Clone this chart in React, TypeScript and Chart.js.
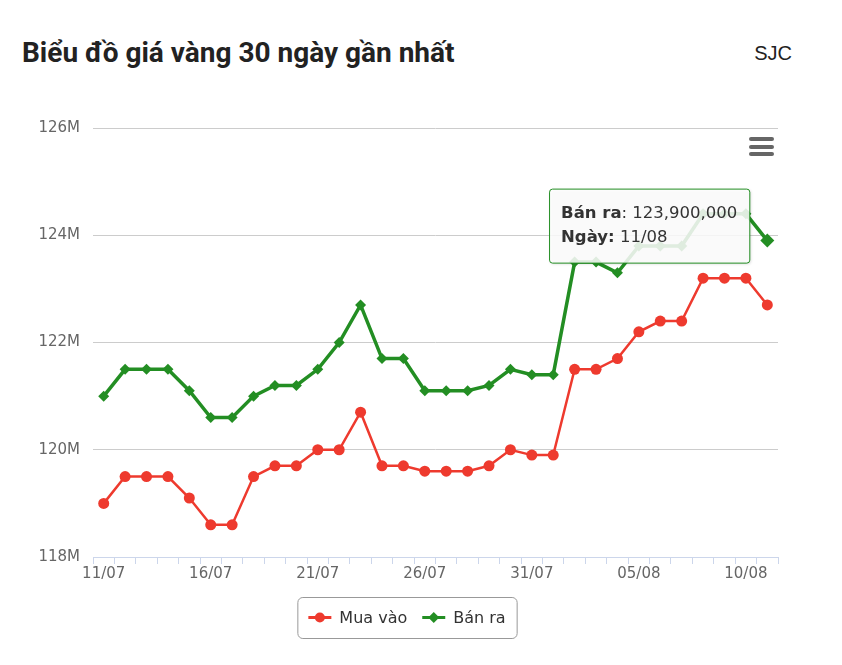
import React, { useEffect, useRef } from "react";
import { Chart, registerables } from "chart.js";

Chart.register(...registerables);

const titleText = "Biểu đồ giá vàng 30 ngày gần nhất";
const brandText = "SJC";
const dateLabel = "Ngày";

const categories = [
  "11/07", "12/07", "13/07", "14/07", "15/07", "16/07", "17/07", "18/07",
  "19/07", "20/07", "21/07", "22/07", "23/07", "24/07", "25/07", "26/07",
  "27/07", "28/07", "29/07", "30/07", "31/07", "01/08", "02/08", "03/08",
  "04/08", "05/08", "06/08", "07/08", "08/08", "09/08", "10/08", "11/08",
];

const buyPrices = [
  119000000, 119500000, 119500000, 119500000, 119100000, 118600000, 118600000, 119500000,
  119700000, 119700000, 120000000, 120000000, 120700000, 119700000, 119700000, 119600000,
  119600000, 119600000, 119700000, 120000000, 119900000, 119900000, 121500000, 121500000,
  121700000, 122200000, 122400000, 122400000, 123200000, 123200000, 123200000, 122700000,
];

const sellPrices = [
  121000000, 121500000, 121500000, 121500000, 121100000, 120600000, 120600000, 121000000,
  121200000, 121200000, 121500000, 122000000, 122700000, 121700000, 121700000, 121100000,
  121100000, 121100000, 121200000, 121500000, 121400000, 121400000, 123500000, 123500000,
  123300000, 123800000, 123800000, 123800000, 124400000, 124400000, 124400000, 123900000,
];

const seriesNames = ["Mua vào", "Bán ra"];
const yMin = 118000000;
const yMax = 126000000;
const yStep = 2000000;
const labelEvery = 5;

const RED = "#EE3A2E";
const GREEN = "#238E23";
const FONT = "'DejaVu Sans', sans-serif";

function roundRect(ctx: CanvasRenderingContext2D, x: number, y: number, w: number, h: number, r: number) {
  ctx.beginPath();
  ctx.moveTo(x + r, y);
  ctx.lineTo(x + w - r, y);
  ctx.arcTo(x + w, y, x + w, y + r, r);
  ctx.lineTo(x + w, y + h - r);
  ctx.arcTo(x + w, y + h, x + w - r, y + h, r);
  ctx.lineTo(x + r, y + h);
  ctx.arcTo(x, y + h, x, y + h - r, r);
  ctx.lineTo(x, y + r);
  ctx.arcTo(x, y, x + r, y, r);
  ctx.closePath();
}

function drawMarker(ctx: CanvasRenderingContext2D, style: string, x: number, y: number, r: number, color: string) {
  ctx.fillStyle = color;
  ctx.beginPath();
  if (style === "rectRot") {
    ctx.moveTo(x - r, y);
    ctx.lineTo(x, y - r);
    ctx.lineTo(x + r, y);
    ctx.lineTo(x, y + r);
    ctx.closePath();
  } else {
    ctx.arc(x, y, r, 0, Math.PI * 2);
  }
  ctx.fill();
}

const boxLegend = {
  id: "boxLegend",
  afterDraw(chart: any) {
    const ctx: CanvasRenderingContext2D = chart.ctx;
    const ds = chart.data.datasets;
    ctx.save();
    ctx.font = `16px ${FONT}`;
    const markerW = 23, gap = 8, itemGap = 15, padX = 11;
    const widths = ds.map((d: any) => ctx.measureText(d.label).width);
    const total = padX * 2 + widths.reduce((a: number, w: number) => a + markerW + gap + w, 0) + itemGap * (ds.length - 1);
    const cx = 407, cy = 617.5, h = 41;
    const left = cx - total / 2;
    roundRect(ctx, left + 0.5, cy - h / 2 + 0.5, total, h, 5);
    ctx.strokeStyle = "#999999";
    ctx.lineWidth = 1;
    ctx.stroke();
    let x = left + padX;
    ds.forEach((d: any, i: number) => {
      ctx.strokeStyle = d.borderColor;
      ctx.lineWidth = 3;
      ctx.beginPath();
      ctx.moveTo(x, cy);
      ctx.lineTo(x + markerW, cy);
      ctx.stroke();
      drawMarker(ctx, d.pointStyle, x + markerW / 2, cy, d.pointStyle === "rectRot" ? 5.5 : 5, d.borderColor);
      x += markerW + gap;
      ctx.fillStyle = "#333333";
      ctx.textBaseline = "middle";
      ctx.textAlign = "left";
      ctx.fillText(d.label, x, cy + 1);
      x += widths[i] + itemGap;
    });
    ctx.restore();
  },
};

const fixedTooltip = {
  id: "fixedTooltip",
  afterDraw(chart: any) {
    const ctx: CanvasRenderingContext2D = chart.ctx;
    const dsIndex = 1;
    const meta = chart.getDatasetMeta(dsIndex);
    const last = meta.data.length - 1;
    const pt = meta.data[last];
    const ds = chart.data.datasets[dsIndex];
    const value = ds.data[last] as number;
    const cat = chart.data.labels[last];
    ctx.save();
    const boldFont = `bold 16.5px ${FONT}`;
    const normFont = `16.5px ${FONT}`;
    const l1b = ds.label;
    const l1n = ": " + value.toLocaleString("en-US");
    const l2b = dateLabel + ":";
    const l2n = " " + cat;
    ctx.font = boldFont;
    const w1b = ctx.measureText(l1b).width;
    const w2b = ctx.measureText(l2b).width;
    ctx.font = normFont;
    const w1n = ctx.measureText(l1n).width;
    const w2n = ctx.measureText(l2n).width;
    const padX = 12;
    const w = Math.max(w1b + w1n, w2b + w2n) + padX * 2;
    const h = 74;
    const right = pt.x - 18;
    const left = right - w;
    const top = pt.y - 52;
    ctx.shadowColor = "rgba(0,0,0,0.18)";
    ctx.shadowOffsetX = 1;
    ctx.shadowOffsetY = 1;
    ctx.shadowBlur = 3;
    roundRect(ctx, left + 0.5, top + 0.5, w, h, 3);
    ctx.fillStyle = "rgba(255,255,255,0.86)";
    ctx.fill();
    ctx.shadowColor = "transparent";
    ctx.strokeStyle = ds.borderColor;
    ctx.lineWidth = 1;
    ctx.stroke();
    ctx.fillStyle = "#333333";
    ctx.textBaseline = "middle";
    ctx.textAlign = "left";
    ctx.font = boldFont;
    ctx.fillText(l1b, left + padX, top + 25);
    ctx.fillText(l2b, left + padX, top + 49);
    ctx.font = normFont;
    ctx.fillText(l1n, left + padX + w1b, top + 25);
    ctx.fillText(l2n, left + padX + w2b, top + 49);
    ctx.restore();
  },
};

export default function App() {
  const canvasRef = useRef<HTMLCanvasElement | null>(null);

  useEffect(() => {
    const canvas = canvasRef.current;
    if (!canvas) return;
    const lastIdx = categories.length - 1;
    const chart = new Chart(canvas, {
      type: "line",
      data: {
        labels: categories,
        datasets: [
          {
            label: seriesNames[0],
            data: buyPrices,
            borderColor: RED,
            backgroundColor: RED,
            borderWidth: 2.5,
            pointStyle: "circle",
            pointRadius: 5.5,
            pointBorderWidth: 0,
            pointBackgroundColor: RED,
            tension: 0,
          },
          {
            label: seriesNames[1],
            data: sellPrices,
            borderColor: GREEN,
            backgroundColor: GREEN,
            borderWidth: 3.5,
            pointStyle: "rectRot",
            pointRadius: (c: any) => (c.dataIndex === lastIdx ? 7 : 5.5),
            pointBorderWidth: 0,
            pointBackgroundColor: GREEN,
            tension: 0,
          },
        ],
      },
      options: {
        animation: false,
        responsive: false,
        maintainAspectRatio: false,
        events: [],
        layout: { padding: { top: 128, right: 64, bottom: 68, left: 0 } },
        plugins: {
          legend: { display: false },
          tooltip: { enabled: false },
          title: { display: false },
        },
        scales: {
          x: {
            type: "category",
            offset: true,
            grid: {
              offset: true,
              drawOnChartArea: false,
              drawTicks: true,
              tickLength: 7,
              color: "#ccd6eb",
            },
            border: { display: true, color: "#ccd6eb", width: 1 },
            ticks: {
              autoSkip: false,
              maxRotation: 0,
              minRotation: 0,
              padding: 1,
              color: "#666666",
              font: { family: FONT, size: 15 },
              callback: (_v: any, i: number) => (i % labelEvery === 0 ? categories[i] : ""),
            },
            afterFit: (scale: any) => {
              scale.height = 40;
            },
          },
          y: {
            min: yMin,
            max: yMax,
            grid: { color: "#cccccc", drawTicks: false, lineWidth: 1 },
            border: { display: false },
            ticks: {
              stepSize: yStep,
              padding: 13,
              color: "#666666",
              font: { family: FONT, size: 15 },
              callback: (v: any) => `${Number(v) / 1000000}M`,
            },
            afterFit: (scale: any) => {
              scale.width = 93;
            },
          },
        },
      },
      plugins: [fixedTooltip, boxLegend],
    } as any);
    return () => chart.destroy();
  }, []);

  return (
    <div style={{ position: "absolute", left: 0, top: 0, width: 842, height: 665, background: "#ffffff" }}>
      <div
        style={{
          position: "absolute",
          left: 22,
          top: 39,
          fontFamily: "Roboto, sans-serif",
          fontWeight: 700,
          fontSize: 28,
          lineHeight: "28px",
          color: "#222222",
          whiteSpace: "nowrap",
        }}
      >
        {titleText}
      </div>
      <div
        style={{
          position: "absolute",
          right: 50,
          top: 43,
          fontFamily: "'Liberation Sans', Arial, sans-serif",
          fontSize: 20,
          lineHeight: "20px",
          color: "#222222",
        }}
      >
        {brandText}
      </div>
      <div style={{ position: "absolute", left: 749, top: 137, width: 25 }}>
        {[0, 1, 2].map((i) => (
          <div
            key={i}
            style={{ position: "absolute", left: 0, top: i * 7.5, width: 25, height: 4, borderRadius: 2, background: "#666666" }}
          />
        ))}
      </div>
      <canvas ref={canvasRef} width={842} height={665} style={{ position: "absolute", left: 0, top: 0, zIndex: 0 }} />
    </div>
  );
}
